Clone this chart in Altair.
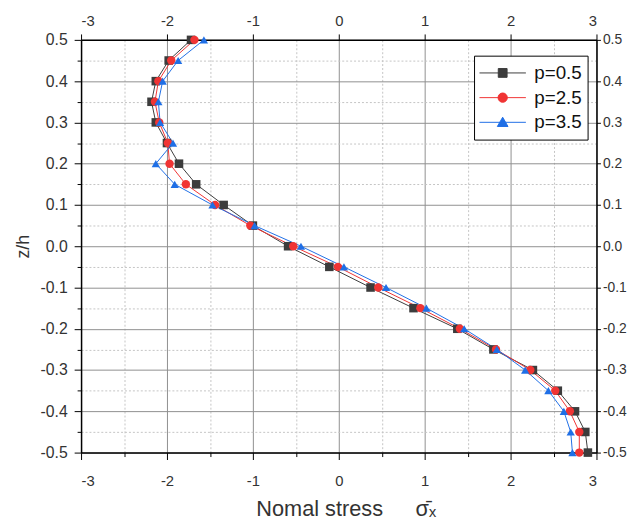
import altair as alt
import pandas as pd

# ---- data ----
z_h = [0.5, 0.45, 0.4, 0.35, 0.3, 0.25, 0.2, 0.15, 0.1, 0.05, 0.0,
       -0.05, -0.1, -0.15, -0.2, -0.25, -0.3, -0.35, -0.4, -0.45, -0.5]
p05 = [-1.72, -1.98, -2.13, -2.18, -2.13, -2.00, -1.86, -1.66, -1.34, -1.00, -0.59,
       -0.11, 0.37, 0.87, 1.38, 1.80, 2.26, 2.55, 2.75, 2.87, 2.90]
p25 = [-1.68, -1.95, -2.10, -2.14, -2.09, -1.99, -1.97, -1.78, -1.44, -1.03, -0.53,
       -0.01, 0.46, 0.95, 1.41, 1.83, 2.23, 2.52, 2.69, 2.80, 2.80]
p35 = [-1.57, -1.87, -2.05, -2.10, -2.08, -1.93, -2.13, -1.91, -1.47, -0.98, -0.44,
       0.06, 0.55, 1.02, 1.46, 1.84, 2.17, 2.44, 2.62, 2.70, 2.72]

series_names = ["p=0.5", "p=2.5", "p=3.5"]
series_colors = ["#3c3c3c", "#f03434", "#1f6fe6"]
series_shapes = ["square", "circle", "triangle-up"]
series_sizes = [75, 70, 105]
legend_paths = [
    "M-1,0H1M-0.19,-0.19H0.19V0.19H-0.19Z",
    "M-1,0H1M0.2,0A0.2,0.2,0,1,1,-0.2,0A0.2,0.2,0,1,1,0.2,0Z",
    "M-1,0H1M0,-0.22L0.23,0.18H-0.23Z",
]

x_major = [-3, -2, -1, 0, 1, 2, 3]
x_minor = [-2.5, -1.5, -0.5, 0.5, 1.5, 2.5]
y_major = [-0.5, -0.4, -0.3, -0.2, -0.1, 0.0, 0.1, 0.2, 0.3, 0.4, 0.5]
y_minor = [-0.45, -0.35, -0.25, -0.15, -0.05, 0.05, 0.15, 0.25, 0.35, 0.45]

x_title = "Nomal stress\u2003\u2002\u03c3\u0304\u2093"
y_title = "z/h"

rows = []
for name, vals in zip(series_names, [p05, p25, p35]):
    for i, (z, v) in enumerate(zip(z_h, vals)):
        rows.append({"series": name, "z": z, "stress": v, "idx": i})
df = pd.DataFrame(rows)

FONT = "Liberation Sans"
XLAB = "replace(format(datum.value,'d'),'\u2212','-')"
YLAB = "replace(format(datum.value,'.1f'),'\u2212','-')"

xs = alt.Scale(domain=[-3, 3], nice=False, zero=False)
ys = alt.Scale(domain=[-0.5, 0.5], nice=False, zero=False)

base = alt.Chart(df)

# minor grid + minor ticks
minor = base.mark_point(opacity=0).encode(
    x=alt.X("stress:Q", scale=xs, axis=alt.Axis(
        orient="bottom", values=x_minor, grid=True, gridDash=[2, 2],
        gridColor="#c4c4c4", gridWidth=1, ticks=True, tickSize=4,
        tickColor="black", labels=False, domain=False, title="")),
    y=alt.Y("z:Q", scale=ys, axis=alt.Axis(
        orient="left", values=y_minor, grid=True, gridDash=[2, 2],
        gridColor="#c4c4c4", gridWidth=1, ticks=True, tickSize=4,
        tickColor="black", labels=False, domain=False, title="")),
)

# major grid + bottom/left axes
major = base.mark_point(opacity=0).encode(
    x=alt.X("stress:Q", scale=xs, axis=alt.Axis(
        orient="bottom", values=x_major, grid=True, gridColor="#8f8f8f",
        gridWidth=1, tickSize=7, tickColor="black", domainColor="black",
        domainWidth=1.5, labelExpr=XLAB, labelFont=FONT, labelFontSize=15,
        labelColor="#333333", labelPadding=14, title=x_title, titleFont=FONT,
        titleFontSize=22, titleFontWeight="normal", titleColor="#333333",
        titleBaseline="alphabetic", titleAlign="center", titleX=268, titleY=64)),
    y=alt.Y("z:Q", scale=ys, axis=alt.Axis(
        orient="left", values=y_major, grid=True, gridColor="#8f8f8f",
        gridWidth=1, tickSize=7, tickColor="black", domainColor="black",
        domainWidth=1.5, labelExpr=YLAB, labelFont=FONT, labelFontSize=16,
        labelColor="#333333", labelPadding=7, title=y_title, titleFont=FONT,
        titleFontSize=18, titleFontWeight="normal", titleColor="#333333",
        titlePadding=8)),
)

# top/right axes
mirror = base.mark_point(opacity=0).encode(
    x=alt.X("stress:Q", scale=xs, axis=alt.Axis(
        orient="top", values=x_major, grid=False, tickSize=6,
        tickColor="black", domainColor="black", domainWidth=1.5,
        labelExpr=XLAB, labelFont=FONT, labelFontSize=15,
        labelColor="#333333", labelPadding=6, title="")),
    y=alt.Y("z:Q", scale=ys, axis=alt.Axis(
        orient="right", values=y_major, grid=False, tickSize=4,
        tickColor="black", domainColor="black", domainWidth=1.5,
        labelExpr=YLAB, labelFont=FONT, labelFontSize=14,
        labelColor="#333333", labelPadding=2, title="")),
)

lines = base.mark_line(strokeWidth=1).encode(
    x=alt.X("stress:Q", scale=xs, axis=None),
    y=alt.Y("z:Q", scale=ys, axis=None),
    color=alt.Color("series:N", scale=alt.Scale(domain=series_names, range=series_colors), legend=None),
    order=alt.Order("idx:Q"),
)

points = base.mark_point(filled=True, opacity=1).encode(
    x=alt.X("stress:Q", scale=xs, axis=None),
    y=alt.Y("z:Q", scale=ys, axis=None),
    color=alt.Color("series:N", scale=alt.Scale(domain=series_names, range=series_colors), legend=None),
    shape=alt.Shape("series:N", scale=alt.Scale(domain=series_names, range=series_shapes), legend=None),
    size=alt.Size("series:N", scale=alt.Scale(domain=series_names, range=series_sizes), legend=None),
)

leg = dict(orient="none", legendX=398, legendY=16, title=None, symbolSize=2209,
           symbolStrokeWidth=1, labelFont=FONT, labelFontSize=19, labelColor="#111111",
           labelOffset=8, padding=5, strokeColor="black", fillColor="white",
           clipHeight=25, rowPadding=0)

legend_layer = base.mark_point(opacity=1).transform_filter("false").encode(
    shape=alt.Shape("series:N", scale=alt.Scale(domain=series_names, range=legend_paths), legend=alt.Legend(**leg)),
    fill=alt.Fill("series:N", scale=alt.Scale(domain=series_names, range=series_colors), legend=alt.Legend(**leg)),
    stroke=alt.Stroke("series:N", scale=alt.Scale(domain=series_names, range=series_colors), legend=alt.Legend(**leg)),
)

chart = alt.layer(minor, major, mirror, lines, points, legend_layer).resolve_scale(
    shape="independent", fill="independent", stroke="independent", size="independent"
).resolve_axis(x="independent", y="independent").properties(
    width=522, height=418,
    autosize=alt.AutoSizeParams(type="none"),
    padding={"left": 74, "top": 29, "right": 38, "bottom": 66},
).configure_view(stroke=None)

chart.save("out.html", embed_options={"renderer": "svg", "actions": False})
